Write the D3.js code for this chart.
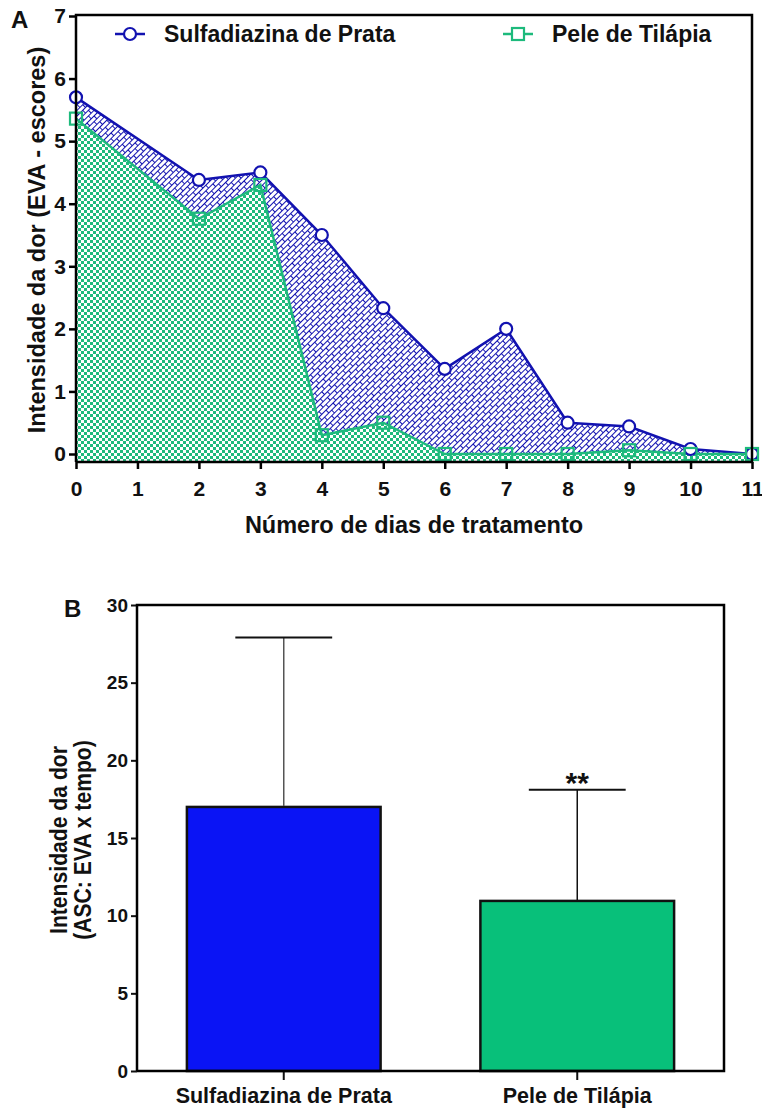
<!DOCTYPE html>
<html lang="pt">
<head>
<meta charset="UTF-8" />
<title>Intensidade da dor</title>
<script src="https://d3js.org/d3.v7.min.js"></script>
<style>
  body { margin: 0; background: #fff; }
  svg text { font-family: "Liberation Sans", Arial, sans-serif; font-weight: bold; fill: #111; }
</style>
</head>
<body>
<script>
  // ---- data, panel A ----
  var days = [0, 2, 3, 4, 5, 6, 7, 8, 9, 10, 11];
  var sulfa = [5.7, 4.38, 4.5, 3.5, 2.33, 1.36, 2.0, 0.5, 0.44, 0.08, 0];
  var pele = [5.36, 3.76, 4.3, 0.3, 0.5, 0, 0, 0, 0.06, 0, 0];
  var xTicksA = [0, 1, 2, 3, 4, 5, 6, 7, 8, 9, 10, 11];
  var yTicksA = [0, 1, 2, 3, 4, 5, 6, 7];
  var seriesNames = ["Sulfadiazina de Prata", "Pele de Tilápia"];

  // ---- data, panel B ----
  var groups = ["Sulfadiazina de Prata", "Pele de Tilápia"];
  var means = [17.0, 10.95];
  var upper = [27.9, 18.1];
  var yTicksB = [0, 5, 10, 15, 20, 25, 30];

  var blue = "#1212b0", green = "#1dba7c";
  var barBlue = "#0a14f5", barGreen = "#08c07a";
  var font = "'Liberation Sans', Arial, sans-serif";

  var svg = d3.select("body").append("svg")
    .attr("width", 762).attr("height", 1111);

  // fill patterns
  var defs = svg.append("defs");
  var brick = defs.append("pattern").attr("id", "brick")
    .attr("patternUnits", "userSpaceOnUse")
    .attr("width", 10).attr("height", 8)
    .attr("patternTransform", "rotate(-45)");
  brick.append("rect").attr("width", 10).attr("height", 8).attr("fill", blue);
  brick.append("rect").attr("x", 1).attr("y", 1).attr("width", 9).attr("height", 3).attr("fill", "#fff");
  brick.append("rect").attr("x", 0).attr("y", 5).attr("width", 4).attr("height", 3).attr("fill", "#fff");
  brick.append("rect").attr("x", 5).attr("y", 5).attr("width", 5).attr("height", 3).attr("fill", "#fff");
  brick.selectAll("rect").attr("shape-rendering", "crispEdges");

  var check = defs.append("pattern").attr("id", "check")
    .attr("patternUnits", "userSpaceOnUse")
    .attr("width", 6).attr("height", 6);
  check.append("rect").attr("width", 6).attr("height", 6).attr("fill", "#fff");
  check.append("rect").attr("width", 3).attr("height", 3).attr("fill", green);
  check.append("rect").attr("x", 3).attr("y", 3).attr("width", 3).attr("height", 3).attr("fill", green);

  // ================= panel A =================
  var aL = 76, aR = 752, aT = 15, aB = 462;
  var x = d3.scaleLinear().domain([0, 11]).range([aL, aR]);
  var y = d3.scaleLinear().domain([0, 7]).range([454, 16]);

  var ptsS = days.map(function (d, i) { return [d, sulfa[i]]; });
  var ptsP = days.map(function (d, i) { return [d, pele[i]]; });

  var area = d3.area()
    .x(function (d) { return x(d[0]); })
    .y0(aB)
    .y1(function (d) { return y(d[1]); });
  var line = d3.line()
    .x(function (d) { return x(d[0]); })
    .y(function (d) { return y(d[1]); });

  svg.append("path").datum(ptsS).attr("d", area).attr("fill", "url(#brick)");
  svg.append("path").datum(ptsP).attr("d", area).attr("fill", "url(#check)");
  svg.append("path").datum(ptsS).attr("d", line)
    .attr("fill", "none").attr("stroke", blue).attr("stroke-width", 2.5);
  svg.append("path").datum(ptsP).attr("d", line)
    .attr("fill", "none").attr("stroke", green).attr("stroke-width", 2.5);

  svg.selectAll(".mS").data(ptsS).enter().append("circle")
    .attr("cx", function (d) { return x(d[0]); })
    .attr("cy", function (d) { return y(d[1]); })
    .attr("r", 6).attr("fill", "#fff")
    .attr("stroke", blue).attr("stroke-width", 2.2);
  svg.selectAll(".mP").data(ptsP).enter().append("rect")
    .attr("x", function (d) { return x(d[0]) - 6; })
    .attr("y", function (d) { return y(d[1]) - 6; })
    .attr("width", 12).attr("height", 12)
    .attr("fill", "none").attr("stroke", green).attr("stroke-width", 2.2);

  // axes A
  var gxA = svg.append("g").attr("transform", "translate(0," + aB + ")")
    .call(d3.axisBottom(x).tickValues(xTicksA).tickFormat(d3.format("d"))
      .tickSize(7).tickSizeOuter(0).tickPadding(12));
  var gyA = svg.append("g").attr("transform", "translate(" + aL + ",0)")
    .call(d3.axisLeft(y).tickValues(yTicksA).tickFormat(d3.format("d"))
      .tickSize(7).tickSizeOuter(0).tickPadding(3));
  [gxA, gyA].forEach(function (g) {
    g.select(".domain").remove();
    g.selectAll("line").attr("stroke", "#000").attr("stroke-width", 2.5);
    g.selectAll("text").attr("font-size", 21).attr("fill", "#111")
      .style("font-family", font).style("font-weight", "bold");
  });
  // frame
  svg.append("path")
    .attr("d", "M" + aL + "," + aB + "V" + aT + "H" + aR + "V" + aB + "H" + aL)
    .attr("fill", "none").attr("stroke", "#000").attr("stroke-width", 2.5);

  svg.append("text").attr("x", 11).attr("y", 28).attr("font-size", 24).text("A");
  svg.append("text").attr("x", (aL + aR) / 2).attr("y", 533).attr("text-anchor", "middle")
    .attr("font-size", 23.5).text("Número de dias de tratamento");
  svg.append("text").attr("transform", "translate(45,240) rotate(-90)")
    .attr("text-anchor", "middle").attr("font-size", 23.5)
    .text("Intensidade da dor (EVA - escores)");

  // legend
  var leg = [
    { name: seriesNames[0], x0: 115, color: blue, shape: "circle" },
    { name: seriesNames[1], x0: 503, color: green, shape: "square" }
  ];
  leg.forEach(function (l) {
    var g = svg.append("g").attr("transform", "translate(" + l.x0 + ",34)");
    g.append("line").attr("x1", 0).attr("x2", 30).attr("stroke", l.color).attr("stroke-width", 2.5);
    if (l.shape === "circle") {
      g.append("circle").attr("cx", 15).attr("r", 6).attr("fill", "#fff")
        .attr("stroke", l.color).attr("stroke-width", 2.2);
    } else {
      g.append("rect").attr("x", 9).attr("y", -6).attr("width", 12).attr("height", 12)
        .attr("fill", "#fff").attr("stroke", l.color).attr("stroke-width", 2.2);
    }
    g.append("text").attr("x", 49).attr("y", 8).attr("font-size", 23).text(l.name);
  });

  // ================= panel B =================
  var bL = 137, bR = 724, bT = 605, bB = 1071;
  var xb = d3.scaleBand().domain(groups).range([bL, bR]).paddingInner(0.34).paddingOuter(0.17);
  var yb = d3.scaleLinear().domain([0, 30]).range([bB, bT]);
  var barColors = [barBlue, barGreen];
  var errColors = ["#555", "#111"];

  svg.selectAll(".bar").data(groups).enter().append("rect")
    .attr("x", function (d) { return xb(d); })
    .attr("y", function (d, i) { return yb(means[i]); })
    .attr("width", xb.bandwidth())
    .attr("height", function (d, i) { return bB - yb(means[i]); })
    .attr("fill", function (d, i) { return barColors[i]; })
    .attr("stroke", "#111").attr("stroke-width", 2.5);

  groups.forEach(function (g, i) {
    var cx = xb(g) + xb.bandwidth() / 2;
    var cap = xb.bandwidth() / 4;
    svg.append("line").attr("x1", cx).attr("x2", cx)
      .attr("y1", yb(means[i]) - 1).attr("y2", yb(upper[i]))
      .attr("stroke", errColors[i]).attr("stroke-width", 1.5);
    svg.append("line").attr("x1", cx - cap).attr("x2", cx + cap)
      .attr("y1", yb(upper[i])).attr("y2", yb(upper[i]))
      .attr("stroke", "#111").attr("stroke-width", 2);
  });
  svg.append("text")
    .attr("x", xb(groups[1]) + xb.bandwidth() / 2).attr("y", yb(upper[1]) + 3)
    .attr("text-anchor", "middle").attr("font-size", 30).text("**");

  var gxB = svg.append("g").attr("transform", "translate(0," + bB + ")")
    .call(d3.axisBottom(xb).tickSize(9).tickSizeOuter(0).tickPadding(8));
  var gyB = svg.append("g").attr("transform", "translate(" + bL + ",0)")
    .call(d3.axisLeft(yb).tickValues(yTicksB).tickSize(6).tickSizeOuter(0).tickPadding(3));
  [gxB, gyB].forEach(function (g) {
    g.select(".domain").remove();
    g.selectAll("line").attr("stroke", "#111").attr("stroke-width", 2);
    g.selectAll("text").attr("fill", "#111").style("font-weight", "bold").style("font-family", font);
  });
  gxB.selectAll("text").attr("font-size", 21.5);
  gyB.selectAll("text").attr("font-size", 19);

  svg.append("path")
    .attr("d", "M" + bL + "," + bB + "V" + bT + "H" + bR + "V" + bB + "H" + bL)
    .attr("fill", "none").attr("stroke", "#000").attr("stroke-width", 2.5);

  svg.append("text").attr("x", 64).attr("y", 617).attr("font-size", 24).text("B");
  var yt = svg.append("text")
    .attr("transform", "translate(67,840) rotate(-90) scale(0.92,1)")
    .attr("text-anchor", "middle").attr("font-size", 23);
  yt.append("tspan").attr("x", 0).attr("dy", 0).text("Intensidade da dor");
  yt.append("tspan").attr("x", 0).attr("dy", 24).text("(ASC: EVA x tempo)");
</script>
</body>
</html>
